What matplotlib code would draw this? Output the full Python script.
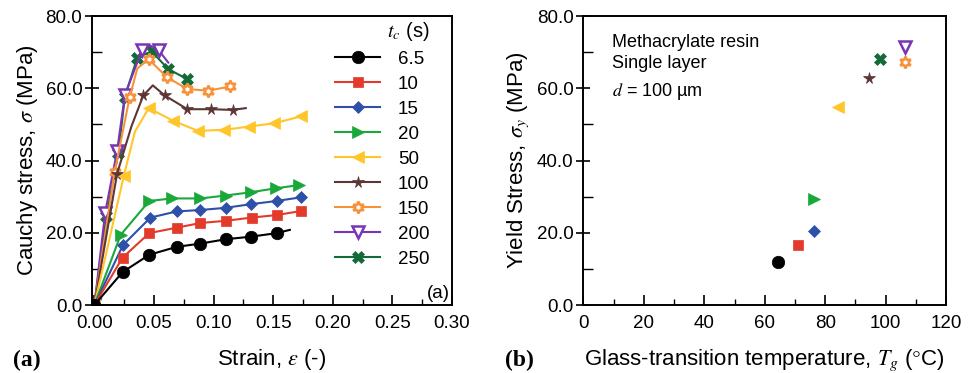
import numpy as np
import matplotlib
matplotlib.use('Agg')
import matplotlib.pyplot as plt
from matplotlib.ticker import MultipleLocator, FormatStrFormatter

plt.rcParams['font.family'] = ['Liberation Sans', 'DejaVu Sans']
plt.rcParams['mathtext.fontset'] = 'stix'

# curing time labels (s)
tc_labels = ['6.5', '10', '15', '20', '50', '100', '150', '200', '250']

# stress-strain curves
strain_65 = [0, 0.0236, 0.046, 0.069, 0.089, 0.110, 0.131, 0.153, 0.164]
stress_65 = [0, 9.1, 13.9, 16.1, 17.0, 18.2, 18.9, 19.9, 20.8]
strain_10 = [0, 0.0236, 0.046, 0.069, 0.089, 0.110, 0.132, 0.153, 0.173]
stress_10 = [0, 13.1, 19.9, 21.4, 22.7, 23.3, 24.2, 24.9, 26.0]
strain_15 = [0, 0.024, 0.047, 0.069, 0.089, 0.110, 0.131, 0.153, 0.173]
stress_15 = [0, 16.6, 24.2, 25.9, 26.3, 26.9, 27.9, 28.8, 29.8]
strain_20 = [0, 0.022, 0.046, 0.065, 0.089, 0.110, 0.131, 0.152, 0.172]
stress_20 = [0, 19.4, 28.8, 29.5, 29.5, 30.3, 31.2, 32.3, 33.2]
strain_50 = [0, 0.0247, 0.034, 0.0456, 0.066, 0.087, 0.109, 0.130, 0.151, 0.173]
stress_50 = [0, 35.8, 48.0, 54.5, 51.0, 48.2, 48.5, 49.4, 50.3, 52.2]
strain_100 = [0, 0.019, 0.031, 0.041, 0.049, 0.059, 0.078, 0.098, 0.116, 0.127]
stress_100 = [0, 36.3, 49.4, 58.0, 60.8, 58.0, 54.2, 54.2, 54.0, 54.5]
strain_150 = [0, 0.017, 0.0297, 0.036, 0.0456, 0.061, 0.078, 0.095, 0.114]
stress_150 = [0, 36.9, 57.7, 65.5, 68.0, 63.0, 59.8, 59.3, 60.5]
strain_200 = [0, 0.009, 0.019, 0.0256, 0.040, 0.046, 0.054, 0.062]
stress_200 = [0, 25.5, 42.6, 58.2, 70.6, 72.0, 70.5, 67.1]
strain_250 = [0, 0.010, 0.020, 0.0256, 0.036, 0.048, 0.062, 0.0775]
stress_250 = [0, 24.5, 42.0, 57.7, 68.5, 70.2, 65.3, 62.6]

# which points of each curve carry a marker
marked_65 = [0, 1, 2, 3, 4, 5, 6, 7]
marked_100 = [0, 1, 3, 5, 6, 7, 8]
marked_50 = [0, 1, 3, 4, 5, 6, 7, 8, 9]
marked_150 = [0, 1, 2, 4, 5, 6, 7, 8]
marked_200 = [0, 1, 2, 3, 4, 6]

# panel (b): glass-transition temperature vs yield stress
tg_c = [64.3, 71.1, 76.4, 76.4, 84.4, 94.6, 106.5, 106.5, 98.2]
yield_mpa = [11.8, 16.6, 20.6, 29.3, 54.9, 62.9, 67.2, 71.5, 68.0]

colors = ['#000000', '#e23a2b', '#2e50a8', '#1aa83a', '#ffc629',
          '#5e3535', '#f7923a', '#7a35b5', '#156b38']
markers = ['o', 's', 'D', '>', '<', '*', (6, 1, 0), 'v', 'X']
msizes = [9, 7.5, 6, 8, 8.5, 8.5, 8.5, 8.5, 8.5]
faces = [None, None, None, None, None, None, 'white', 'white', None]

curves = [
    (strain_65, stress_65, marked_65),
    (strain_10, stress_10, None),
    (strain_15, stress_15, None),
    (strain_20, stress_20, None),
    (strain_50, stress_50, marked_50),
    (strain_100, stress_100, marked_100),
    (strain_150, stress_150, marked_150),
    (strain_200, stress_200, marked_200),
    (strain_250, stress_250, None),
]

fig = plt.figure(figsize=(9.77, 3.73), dpi=100)
ax1 = fig.add_axes([0.0942, 0.1823, 0.3684, 0.7748])
ax2 = fig.add_axes([0.5972, 0.1823, 0.3711, 0.7748])

# draw in reverse so the black curve sits on top
for i in reversed(range(len(curves))):
    x, y, mk = curves[i]
    fc = faces[i] if faces[i] else colors[i]
    mew = 1.8 if faces[i] else 0.5
    ax1.plot(x, y, color=colors[i], lw=1.5, marker=markers[i], ms=msizes[i],
             mfc=fc, mec=colors[i], mew=mew, markevery=mk, label=tc_labels[i])

for i in range(len(tg_c)):
    fc = faces[i] if faces[i] else colors[i]
    mew = 1.8 if faces[i] else 0.5
    ax2.plot(tg_c[i], yield_mpa[i], ls='none', marker=markers[i], ms=msizes[i],
             mfc=fc, mec=colors[i], mew=mew)

handles, labels = ax1.get_legend_handles_labels()
leg = ax1.legend(handles[::-1], labels[::-1], loc='upper right',
                 bbox_to_anchor=(0.948, 1.0), frameon=False, fontsize=13.5,
                 title='$t_c$ (s)', title_fontsize=14.5, alignment='right',
                 handlelength=2.4, handletextpad=0.95, labelspacing=0.42,
                 borderaxespad=0.0, borderpad=0.2)

ax1.set_xlim(-0.002, 0.30)
ax1.set_ylim(0, 80)
ax1.xaxis.set_major_locator(MultipleLocator(0.05))
ax1.xaxis.set_minor_locator(MultipleLocator(0.025))
ax1.xaxis.set_major_formatter(FormatStrFormatter('%.2f'))
ax1.yaxis.set_major_locator(MultipleLocator(20))
ax1.yaxis.set_minor_locator(MultipleLocator(10))
ax1.yaxis.set_major_formatter(FormatStrFormatter('%.1f'))
ax1.set_xlabel(r'Strain, $\varepsilon$ (-)', fontsize=16, labelpad=11)
ax1.set_ylabel(r'Cauchy stress, $\sigma$ (MPa)', fontsize=16, labelpad=4)
ax1.text(0.995, 0.01, '(a)', transform=ax1.transAxes, ha='right', va='bottom',
         fontsize=13.5)

ax2.set_xlim(0, 120)
ax2.set_ylim(0, 80)
ax2.xaxis.set_major_locator(MultipleLocator(20))
ax2.xaxis.set_minor_locator(MultipleLocator(10))
ax2.yaxis.set_major_locator(MultipleLocator(20))
ax2.yaxis.set_minor_locator(MultipleLocator(10))
ax2.yaxis.set_major_formatter(FormatStrFormatter('%.1f'))
ax2.set_xlabel(r'Glass-transition temperature, $T_g$ ($\degree$C)', fontsize=16, labelpad=11)
ax2.set_ylabel(r'Yield Stress, $\sigma_y$ (MPa)', fontsize=16, labelpad=4)
ax2.text(0.078, 0.91, 'Methacrylate resin', transform=ax2.transAxes, va='center', fontsize=13)
ax2.text(0.078, 0.835, 'Single layer', transform=ax2.transAxes, va='center', fontsize=13)
ax2.text(0.078, 0.74, r'$d$ = 100 µm', transform=ax2.transAxes, va='center', fontsize=13)

for ax in (ax1, ax2):
    for sp in ax.spines.values():
        sp.set_linewidth(1.4)
    ax.tick_params(axis='both', which='major', labelsize=13.5, width=1.2)
    ax.tick_params(axis='x', which='major', direction='in', length=7, pad=7)
    ax.tick_params(axis='x', which='minor', direction='in', length=4, width=1.0)
    ax.tick_params(axis='y', which='major', direction='inout', length=10, pad=2)
    ax.tick_params(axis='y', which='minor', direction='in', length=7, width=1.0)

fig.text(0.013, 0.02, '(a)', fontsize=17, fontweight='bold', family='Liberation Serif')
fig.text(0.517, 0.02, '(b)', fontsize=17, fontweight='bold', family='Liberation Serif')

fig.savefig('out.png', dpi=100)
